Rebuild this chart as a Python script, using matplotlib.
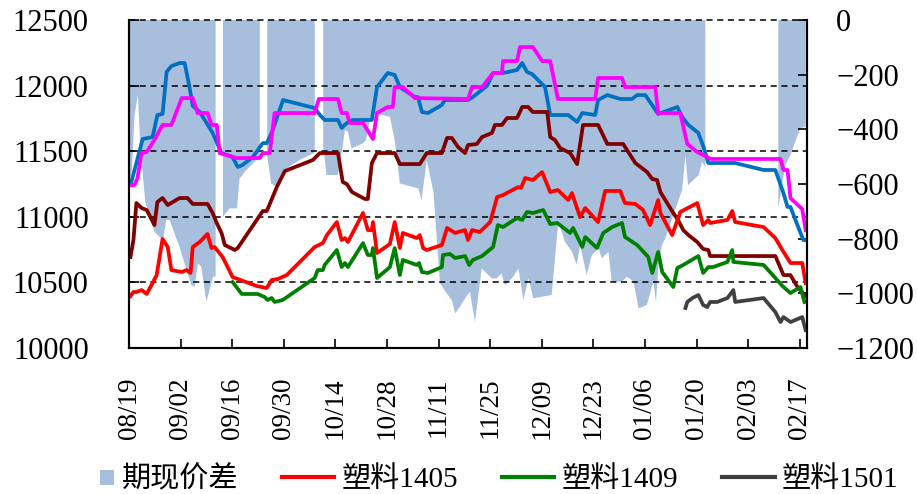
import numpy as np
import matplotlib
matplotlib.use('Agg')
import matplotlib.pyplot as plt
from matplotlib.lines import Line2D
from matplotlib.patches import Rectangle
from matplotlib.legend_handler import HandlerPatch

# 字体：数字用衬线体，中文回落到 Noto Sans CJK
plt.rcParams['font.family'] = ['Liberation Serif', 'Noto Sans CJK SC']

# x 轴：从 2013-08-19 起的天数，每 14 天一个刻度
tick_labels = ['08/19', '09/02', '09/16', '09/30', '10/14', '10/28', '11/11',
               '11/25', '12/09', '12/23', '01/06', '01/20', '02/03', '02/17']

# 期现价差（右轴），nan 表示缺数据
basis_day = [0.0, 0.8, 1.5, 2.4, 3.1, 4.4, 6.9, 9.2, 10.1, 11.0,
             13.7, 16.9, 17.8, 18.7, 19.6, 21.0, 22.8, 23.5, 24.5, 25.5,
             27.3, 29.3, 30.0, 31.8, 33.6, 35.5, 36.5, 37.5, 38.6, 40.0,
             41.4, 42.7, 46.3, 50.4, 51.5, 52.7, 53.6, 56.7, 57.7, 58.6,
             59.4, 60.4, 63.5, 64.3, 65.8, 66.7, 70.8, 72.1, 73.5, 78.5,
             79.4, 80.8, 82.6, 84.4, 86.2, 87.6, 88.5, 89.8, 91.2, 92.5,
             93.9, 95.7, 98.4, 99.8, 101.1, 102.0, 103.9, 105.7, 107.0, 108.4,
             109.7, 114.7, 116.5, 118.3, 120.2, 121.5, 122.4, 124.2, 125.6, 127.4,
             128.3, 130.1, 131.0, 133.8, 135.1, 136.9, 138.3, 140.5, 142.3, 143.0,
             143.7, 144.6, 145.5, 150.1, 151.0, 151.7, 154.6, 155.5, 156.4, 166.0,
             176.2, 177.0, 178.1, 179.5, 180.8, 182.2, 183.6]
basis_val = [-600, -549, -348, -274, -470, -665, -775, -805, -732, -732,
             -830, -970, -976, -890, -902, -1031, -939, -939, np.nan, -720,
             -689, -689, -580, -549, -525, -500, np.nan, -500, -598, -610,
             -573, -543, -512, -485, np.nan, -464, -567, -567, -488, -402,
             -408, -470, -451, -439, -341, -341, -354, -439, -598, -616,
             -659, -512, -628, -963, -1000, -1025, -1073, -1049, -1018, -994,
             -1104, -909, -945, -945, -927, -970, -945, -909, -1025, -945,
             -1018, -1006, -738, -811, -848, -896, -823, -933, -860, -835,
             -872, -848, -957, -957, -939, -957, -1055, -1043, -957, -1031,
             -896, -823, -799, -622, -494, -604, -567, -518, -537, np.nan,
             -688, -620, -531, -494, -445, -396, -390]

# 蓝线
blue_day = [0.4, 2.0, 3.7, 6.4, 7.7, 9.1, 10.2, 11.5, 13.7, 15.1,
            16.4, 17.3, 19.2, 22.7, 25.1, 28.1, 29.5, 30.8, 33.6, 36.3,
            37.4, 38.7, 41.8, 50.4, 51.8, 53.1, 56.7, 57.7, 59.1, 60.7,
            65.9, 67.3, 70.2, 72.1, 73.5, 77.6, 78.4, 79.5, 81.1, 84.9,
            85.7, 89.8, 92.0, 93.3, 97.1, 98.8, 101.2, 102.9, 105.3, 106.7,
            108.0, 109.4, 112.9, 114.3, 119.2, 121.6, 123.0, 126.5, 127.3, 129.8,
            133.3, 136.5, 137.9, 140.1, 143.6, 148.8, 150.1, 151.8, 154.5, 155.9,
            157.2, 164.5, 172.2, 175.4, 177.6, 178.7, 179.5, 181.6, 183.0, 183.7]
blue_val = [11242, 11410, 11593, 11608, 11776, 11784, 12104, 12149, 12172, 12172,
            11989, 11845, 11800, 11639, 11486, 11456, 11380, 11395, 11456, 11562,
            11562, 11639, 11890, 11829, 11776, 11738, 11738, 11677, 11715, 11738,
            11738, 11989, 12096, 12081, 11989, 11913, 11913, 11799, 11791, 11852,
            11890, 11890, 11890, 11913, 11997, 12096, 12096, 12104, 12119, 12172,
            12104, 12088, 11989, 11776, 11776, 11723, 11791, 11776, 11890, 11928,
            11898, 11898, 11928, 11928, 11784, 11837, 11761, 11700, 11639, 11532,
            11410, 11410, 11357, 11357, 11181, 11075, 11075, 10922, 10823, 10823]

# 品红线
mag_day = [0.4, 1.5, 2.3, 3.4, 4.8, 6.9, 9.1, 11.5, 14.3, 17.3,
           18.6, 21.3, 22.4, 23.8, 24.6, 29.2, 35.5, 36.3, 38.2, 39.5,
           50.4, 51.5, 56.7, 57.7, 59.1, 59.9, 63.5, 66.2, 67.3, 70.2,
           71.6, 72.1, 74.3, 77.6, 92.0, 93.1, 95.8, 98.8, 101.2, 101.5,
           105.3, 106.1, 109.6, 112.1, 114.3, 116.4, 126.5, 127.3, 133.8, 134.6,
           142.8, 143.6, 149.6, 151.5, 154.2, 156.9, 157.8, 176.8, 177.6, 178.7,
           179.5, 182.7, 183.6]
mag_val = [11242, 11242, 11296, 11486, 11494, 11585, 11700, 11700, 11905, 11905,
           11791, 11791, 11700, 11700, 11486, 11448, 11448, 11486, 11486, 11791,
           11791, 11898, 11898, 11791, 11791, 11715, 11715, 11593, 11791, 11837,
           11837, 11989, 11989, 11905, 11898, 11989, 11989, 12096, 12096, 12187,
           12187, 12294, 12294, 12187, 12187, 11898, 11898, 12058, 12058, 11989,
           11989, 11791, 11791, 11555, 11494, 11456, 11441, 11441, 11357, 11357,
           11143, 11059, 10899]

# 深红线
dred_day = [0.4, 1.2, 2.0, 3.4, 4.8, 6.9, 7.7, 9.1, 10.5, 13.7,
            15.9, 17.3, 21.3, 22.7, 23.8, 25.1, 26.0, 28.7, 29.5, 36.3,
            37.4, 40.1, 42.3, 49.9, 51.8, 56.7, 58.0, 59.1, 60.5, 64.0,
            64.8, 65.9, 67.3, 72.1, 73.5, 78.9, 80.8, 84.9, 86.3, 87.6,
            89.3, 91.2, 92.0, 94.4, 95.8, 98.5, 99.3, 101.2, 102.6, 105.3,
            106.7, 108.3, 109.6, 113.5, 114.3, 115.6, 117.0, 119.7, 121.6, 123.2,
            127.3, 129.8, 134.1, 137.4, 140.6, 142.0, 143.3, 144.2, 147.7, 149.0,
            150.4, 151.8, 154.2, 155.8, 157.2, 157.7, 175.4, 177.6, 179.5, 181.4,
            183.6]
dred_val = [10694, 10823, 11105, 11067, 11052, 10937, 11113, 11143, 11090, 11143,
            11143, 11098, 11098, 11029, 10953, 10877, 10785, 10747, 10762, 11044,
            11044, 11227, 11349, 11433, 11486, 11486, 11265, 11250, 11189, 11136,
            11136, 11410, 11486, 11486, 11402, 11402, 11486, 11486, 11601, 11601,
            11532, 11486, 11547, 11555, 11608, 11639, 11700, 11700, 11753, 11753,
            11837, 11837, 11799, 11799, 11608, 11585, 11524, 11486, 11402, 11700,
            11700, 11555, 11555, 11410, 11341, 11288, 11280, 11189, 11029, 10976,
            10899, 10861, 10808, 10755, 10747, 10701, 10701, 10556, 10556, 10465,
            10396]

# 塑料1405
p1405_day = [0.4, 1.2, 2.0, 3.4, 4.8, 6.1, 7.5, 9.1, 10.5, 11.5,
             14.3, 15.6, 16.7, 17.3, 19.2, 21.3, 22.4, 23.2, 25.4, 28.1,
             34.6, 37.4, 38.7, 40.4, 42.8, 50.4, 52.6, 53.7, 56.4, 57.7,
             58.6, 59.4, 63.5, 64.8, 65.9, 66.2, 67.3, 70.8, 72.1, 73.5,
             74.3, 78.1, 78.9, 79.8, 80.8, 84.9, 86.3, 88.5, 91.2, 92.0,
             93.1, 95.2, 98.0, 99.9, 101.5, 105.6, 106.4, 107.5, 109.6, 112.1,
             114.3, 116.4, 119.2, 120.2, 122.4, 123.8, 127.3, 129.2, 133.3, 134.6,
             137.4, 139.5, 141.4, 143.6, 144.2, 147.4, 149.6, 154.2, 155.8, 157.2,
             157.7, 162.4, 163.7, 164.5, 172.2, 175.4, 177.3, 179.5, 182.7, 183.6]
p1405_val = [10396, 10427, 10427, 10442, 10412, 10480, 10556, 10831, 10770, 10594,
             10579, 10594, 10572, 10770, 10808, 10869, 10762, 10770, 10694, 10541,
             10473, 10457, 10518, 10526, 10556, 10770, 10800, 10861, 10960, 10823,
             10838, 10808, 11029, 10899, 10899, 10960, 10724, 10793, 10960, 10762,
             10877, 10838, 10861, 10762, 10747, 10785, 10915, 10877, 10899, 10823,
             10899, 10884, 10960, 11151, 11166, 11227, 11220, 11296, 11280, 11341,
             11189, 11204, 11128, 11181, 10998, 11067, 10960, 11197, 11197, 11105,
             11098, 11052, 10937, 11128, 11029, 10861, 11037, 11105, 10937, 10976,
             10953, 10976, 11044, 10960, 10922, 10838, 10747, 10648, 10648, 10495]

# 塑料1409
p1409_day = [28.1, 30.6, 34.9, 36.8, 37.6, 38.7, 39.5, 41.7, 50.4, 51.2,
             52.6, 53.1, 56.4, 57.7, 58.6, 59.4, 63.5, 64.8, 65.9, 66.2,
             67.3, 70.8, 72.1, 73.5, 74.3, 78.1, 78.7, 79.5, 81.1, 84.9,
             85.2, 87.1, 88.5, 91.2, 92.3, 93.3, 95.8, 98.8, 100.1, 101.5,
             105.3, 106.7, 108.0, 109.6, 112.4, 114.3, 116.2, 119.7, 120.5, 123.0,
             123.8, 127.0, 128.7, 131.1, 133.8, 134.6, 137.9, 140.9, 142.0, 143.6,
             144.7, 147.7, 148.8, 150.4, 154.5, 155.8, 157.2, 158.5, 162.4, 163.7,
             164.0, 172.2, 175.4, 177.3, 179.5, 182.2, 183.3]
p1409_val = [10503, 10412, 10412, 10389, 10366, 10381, 10351, 10366, 10534, 10594,
             10594, 10633, 10747, 10617, 10648, 10617, 10800, 10709, 10709, 10762,
             10534, 10617, 10762, 10556, 10671, 10633, 10648, 10579, 10572, 10617,
             10709, 10717, 10686, 10701, 10633, 10671, 10701, 10770, 10937, 10922,
             10991, 10976, 11037, 11029, 11052, 10945, 10953, 10877, 10915, 10770,
             10846, 10762, 10877, 10922, 10953, 10846, 10785, 10694, 10572, 10732,
             10579, 10465, 10610, 10633, 10701, 10572, 10617, 10617, 10656, 10747,
             10656, 10633, 10534, 10473, 10419, 10465, 10351]

# 塑料1501
p1501_day = [151.0, 151.5, 152.9, 154.5, 155.8, 156.9, 157.7, 159.6, 162.4, 164.0,
             164.5, 172.2, 175.4, 176.8, 177.6, 179.5, 182.7, 183.6]
p1501_val = [10305, 10351, 10381, 10404, 10328, 10312, 10351, 10351, 10381, 10442,
             10351, 10381, 10274, 10198, 10236, 10198, 10236, 10137]

fill_color = '#A7BEDC'
lw = 2.7

fig = plt.figure(figsize=(9.17, 4.94), dpi=100)
ax = fig.add_axes([0.1407, 0.2955, 0.7394, 0.664])   # 右轴：期现价差
ax2 = ax.twinx()                                      # 左轴：价格线

ax.fill_between(basis_day, basis_val, 0, color=fill_color, lw=0)
ax.set_ylim(-1200, 0)
ax.set_yticks(np.arange(-1200, 1, 200))
ax.yaxis.tick_right()
ax.tick_params(axis='y', direction='in', length=6.5, width=1.2, pad=21, labelsize=22)

ax2.plot(blue_day, blue_val, color='#0070C0', lw=lw)
ax2.plot(mag_day, mag_val, color='#FF00FF', lw=lw)
ax2.plot(dred_day, dred_val, color='#800000', lw=lw)
ax2.plot(p1405_day, p1405_val, color='#FF0000', lw=lw)
ax2.plot(p1409_day, p1409_val, color='#008000', lw=lw)
ax2.plot(p1501_day, p1501_val, color='#404040', lw=lw)
ax2.set_ylim(10000, 12500)
ax2.set_yticks(np.arange(10000, 12501, 500))
ax2.yaxis.tick_left()
ax2.tick_params(axis='y', direction='in', length=7, width=1.2, pad=29, labelsize=22)
ax2.grid(axis='y', color='black', linestyle=(0, (4, 3)), lw=1.1)
for gl in ax2.get_ygridlines():
    gl.set_clip_on(False)

ax.set_xlim(0, 184)
tick_days = np.arange(len(tick_labels)) * 14
ax.set_xticks(tick_days)
ax.set_xticklabels(tick_labels, rotation=90, fontsize=19.5)
ax.tick_params(axis='x', direction='in', length=6.5, width=1.2, pad=21)

for a in (ax, ax2):
    a.spines['top'].set_visible(False)
    for s in ('left', 'right', 'bottom'):
        a.spines[s].set_linewidth(1.5)


def square(legend, orig_handle, xdescent, ydescent, width, height, fontsize):
    s = 0.5 * fontsize
    return Rectangle((width - s - xdescent, (height - s) / 2 - ydescent), s, s)


handles = [Rectangle((0, 0), 1, 1, facecolor=fill_color, edgecolor='none'),
           Line2D([], [], color='#FF0000', lw=3),
           Line2D([], [], color='#008000', lw=3),
           Line2D([], [], color='#404040', lw=3)]
labels = ['期现价差', '塑料1405', '塑料1409', '塑料1501']
fig.legend(handles, labels, loc='center', bbox_to_anchor=(0.5236, 0.029), ncol=4,
           fontsize=21, frameon=True, facecolor='white', edgecolor='none', framealpha=1,
           handlelength=1.8, handletextpad=0.25, columnspacing=1.5, borderpad=0.2,
           fancybox=False, handler_map={Rectangle: HandlerPatch(patch_func=square)})

fig.savefig('out.png', dpi=100)
